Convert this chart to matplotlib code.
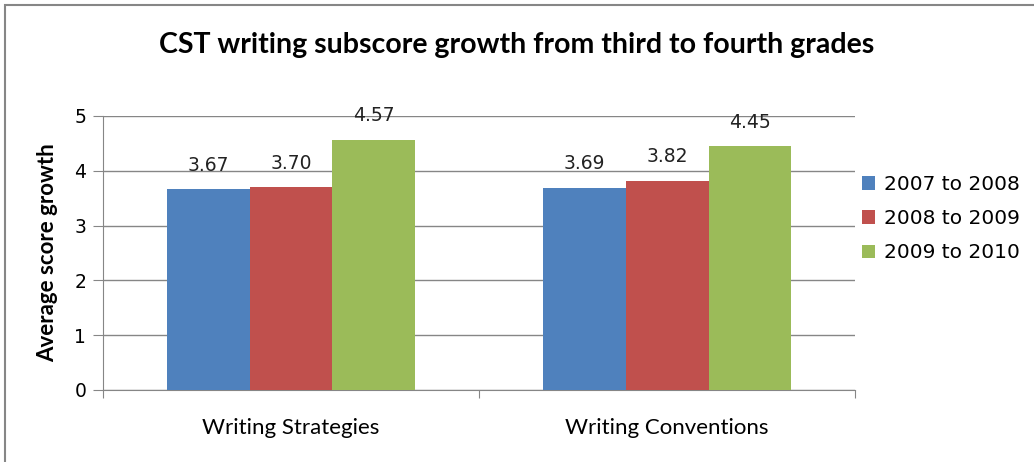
import numpy as np
from matplotlib import pyplot as plt
from matplotlib.patches import Rectangle

categories = ['Writing Strategies', 'Writing Conventions']
series = ['2007 to 2008', '2008 to 2009', '2009 to 2010']
values = [
    [3.67, 3.69],
    [3.70, 3.82],
    [4.57, 4.45],
]
colors = ['#4F81BD', '#C0504D', '#9BBB59']

fig = plt.figure(figsize=(10.34, 4.62), dpi=100)
ax = fig.add_axes([0.0996, 0.156, 0.7276, 0.593])

x = np.arange(len(categories))
w = 0.22
for i, (name, vals) in enumerate(zip(series, values)):
    bars = ax.bar(x + (i - 1) * w, vals, w, color=colors[i], label=name, zorder=3)
    for b, v in zip(bars, vals):
        ax.text(b.get_x() + b.get_width() / 2, v + 0.26, '%.2f' % v,
                ha='center', va='bottom', fontsize=13.5, family='DejaVu Sans',
                color='#222222', zorder=4)

ax.set_xlim(-0.5, len(categories) - 0.5)
ax.set_ylim(0, 5)
ax.set_yticks(range(6))
ax.yaxis.grid(True, color='#868686', linewidth=1, zorder=0)
ax.set_axisbelow(True)

ax.set_xticks([-0.5, 0.5, 1.5])
ax.set_xticklabels([])
ax.set_xticks(x, minor=True)
ax.set_xticklabels(categories, minor=True, fontsize=16, family='Lato')
ax.tick_params(axis='x', which='minor', length=0, pad=20)
ax.tick_params(axis='x', which='major', length=6, color='#868686')
ax.tick_params(axis='y', length=7, color='#868686', labelsize=13.5, pad=5)

for s in ['top', 'right']:
    ax.spines[s].set_visible(False)
for s in ['left', 'bottom']:
    ax.spines[s].set_color('#868686')

ax.set_ylabel('Average score growth', fontsize=16, fontweight='bold', family='Lato', labelpad=12)

ax.legend(loc='center left', bbox_to_anchor=(0.985, 0.625), frameon=False,
          prop={'family': 'DejaVu Sans', 'size': 14.5}, handlelength=0.65,
          handleheight=0.65, labelspacing=0.75, handletextpad=0.45)

fig.text(0.5, 0.903, 'CST writing subscore growth from third to fourth grades',
         ha='center', va='center', fontsize=20.5, fontweight='bold', family='Lato')

fig.patches.append(Rectangle((5 / 1034, -0.1), 1.1, (457 + 46) / 462, transform=fig.transFigure,
                             fill=False, edgecolor='#868686', linewidth=1.5))

fig.savefig('out.png', dpi=100)
